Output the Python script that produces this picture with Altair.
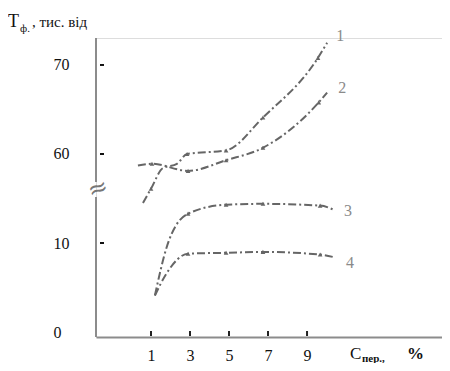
import altair as alt
import pandas as pd

# ---- data ----
c1_x = [0.59, 1.0, 1.6, 2.33, 2.85, 4.85, 6.74, 9.56, 10.03]
c1_v = [54.5, 56.1, 58.4, 58.9, 60.0, 60.4, 64.1, 70.8, 72.5]
c1_m = [0, 1, 0, 0, 1, 1, 1, 1, 0]

c2_x = [0.33, 1.05, 2.9, 4.85, 6.74, 9.6, 10.03]
c2_v = [58.7, 58.9, 58.1, 59.3, 60.7, 65.8, 66.9]
c2_m = [0, 1, 1, 1, 1, 1, 0]

c3_x = [1.2, 1.8, 2.9, 4.85, 6.74, 9.67, 10.4]
c3_v = [4.1, 9.5, 13.3, 14.3, 14.4, 14.2, 13.7]
c3_m = [0, 0, 1, 1, 1, 1, 0]

c4_x = [1.2, 1.8, 2.9, 4.85, 6.74, 9.67, 10.4]
c4_v = [4.1, 6.6, 8.8, 8.9, 9.0, 8.7, 8.4]
c4_m = [0, 0, 1, 1, 1, 1, 0]

curve_names = ["1", "2", "3", "4"]
label_x = [10.5, 10.6, 10.9, 11.0]
label_v = [73.2, 67.4, 13.6, 7.8]

x_ticks = [1, 3, 5, 7, 9]
y_ticks = [0, 10, 60, 70]
y_tick_labels = ["0", "10", "60", "70"]

rows = []
for name, xs, vs, ms in zip(curve_names, [c1_x, c2_x, c3_x, c4_x],
                            [c1_v, c2_v, c3_v, c4_v], [c1_m, c2_m, c3_m, c4_m]):
    for x, v, m in zip(xs, vs, ms):
        rows.append({"s": name, "x": x, "v": v, "m": m})
df = pd.DataFrame(rows)
lab_df = pd.DataFrame({"s": curve_names, "x": label_x, "v": label_v})
xt_df = pd.DataFrame({"x": x_ticks})
yt_df = pd.DataFrame({"v": [10, 60, 70]})
yax_df = pd.DataFrame({"a": [-0.056, 1.685], "b": [1.517, 3.303]})

BREAK = "datum.v < 30 ? datum.v / 10 : 2 + (datum.v - 60) / 10"
FONT = "Liberation Serif"
LINE = "#666666"
AXC = "#8c8c8c"

xscale = alt.Scale(domain=[-1.82, 15.92], nice=False, zero=False)
yscale = alt.Scale(domain=[-0.056, 3.303], nice=False, zero=False)

label_expr = ("datum.value == 3 ? '70' : datum.value == 2 ? '60' : "
              "datum.value == 1 ? '10' : '0'")

X = alt.X("x:Q", scale=xscale,
          axis=alt.Axis(values=x_ticks, title=None, grid=False, ticks=False,
                        domainColor=AXC, domainWidth=2, labelFont=FONT,
                        labelFontSize=16, labelColor="#111", labelPadding=10))
Y = alt.Y("d:Q", scale=yscale,
          axis=alt.Axis(values=[0, 1, 2, 3], labelExpr=label_expr, title=None,
                        grid=False, ticks=False, domain=False, labelFont=FONT,
                        labelFontSize=16, labelColor="#111", labelAlign="left",
                        labelPadding=43))

base = alt.Chart(df).transform_calculate(d=BREAK)

lines = base.mark_line(interpolate="monotone", color=LINE, strokeWidth=2,
                       strokeDash=[8, 3, 2, 3]).encode(x=X, y=Y, detail="s:N")
marks = base.transform_filter("datum.m == 1").mark_point(
    shape="triangle-up", filled=True, size=22, color=LINE, opacity=1
).encode(x=alt.X("x:Q", scale=xscale), y=alt.Y("d:Q", scale=yscale))

labels = alt.Chart(lab_df).transform_calculate(d=BREAK).mark_text(
    font=FONT, fontSize=16, color="#8a8a8a", align="left"
).encode(x=alt.X("x:Q", scale=xscale), y=alt.Y("d:Q", scale=yscale), text="s:N")

yaxis_line = alt.Chart(yax_df).mark_rule(color=AXC, strokeWidth=2).encode(
    x=alt.value(0), y=alt.Y("a:Q", scale=yscale), y2="b:Q")

ytick_marks = alt.Chart(yt_df).transform_calculate(d=BREAK).mark_rule(
    color="#111", strokeWidth=2).encode(
    x=alt.value(4), x2=alt.value(8), y=alt.Y("d:Q", scale=yscale))

xtick_marks = alt.Chart(xt_df).mark_rule(color="#222", strokeWidth=2).encode(
    x=alt.X("x:Q", scale=xscale), y=alt.value(293), y2=alt.value(298))

brk = alt.Chart(pd.DataFrame({"t": ["≈"]})).mark_text(
    font="DejaVu Sans", fontSize=24, color="#777", angle=340
).encode(x=alt.value(2), y=alt.value(151), text="t:N")

def txt(t, x, y, size, color="#111", weight="normal"):
    return alt.Chart(pd.DataFrame({"t": [t]})).mark_text(
        font=FONT, fontSize=size, color=color, align="left",
        baseline="alphabetic", fontWeight=weight
    ).encode(x=alt.value(x), y=alt.value(y), text="t:N")

titles = (txt("T", -88, -11, 18) + txt("ф.", -76, -6, 11) +
          txt(", тис. від", -64, -11, 15) +
          txt("C", 254, 321, 17) + txt("пер.,", 266, 324, 11, weight="bold") +
          txt("%", 311, 321, 17, weight="bold"))

chart = alt.layer(yaxis_line, xtick_marks, ytick_marks, brk, lines, marks,
                  labels, titles).properties(
    width=346, height=299, autosize="none",
    padding={"left": 88, "top": 30, "right": 0, "bottom": 26}
).configure_view(stroke=None).configure(background="white")

chart.save("out.html", embed_options={"renderer": "svg", "actions": False})
